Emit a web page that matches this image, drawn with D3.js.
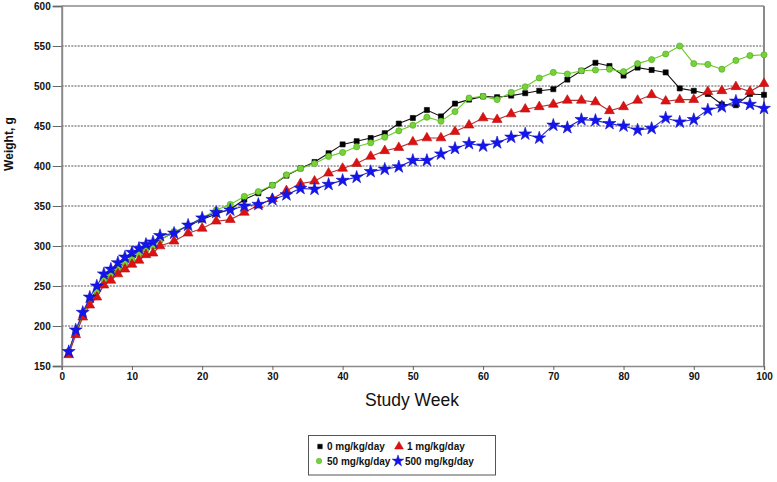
<!DOCTYPE html>
<html>
<head>
<meta charset="utf-8">
<script src="https://cdn.jsdelivr.net/npm/d3@7"></script>
<style>
  html, body { margin: 0; padding: 0; background: #fff; }
  svg { display: block; font-family: "Liberation Sans", Arial, sans-serif; }
</style>
</head>
<body>
<svg id="chart" width="777" height="482"></svg>
<script>
// ---- data ----
const weeks = [1,2,3,4,5,6,7,8,9,10,11,12,13,14,
  16,18,20,22,24,26,28,30,32,34,36,38,
  40,42,44,46,48,50,52,54,56,58,60,
  62,64,66,68,70,72,74,76,78,80,
  82,84,86,88,90,92,94,96,98,100];

const dose0 = [168,193,214,232,245,259,265,273,280,285,291,297,301,308,
  317,325,333,340,346,358,366,376,388,397,405,416,
  427,431,435,441,453,460,470,462,478,483,487,
  486,488,491,494,496,508,519,529,525,513,
  523,520,517,497,494,490,477,476,490,489];

const dose50 = [168,192,213,231,243,257,263,271,278,283,290,295,300,307,
  318,325,335,345,352,362,368,376,389,397,403,412,
  417,424,429,436,444,451,461,456,468,485,487,
  483,492,499,510,517,515,519,520,521,518,
  528,533,540,550,528,527,521,532,538,539];

const dose1 = [164,189,211,226,236,251,257,265,271,277,282,289,291,300,
  306,316,322,331,333,342,351,359,369,378,381,391,
  397,403,412,419,423,430,435,435,443,451,460,
  458,465,471,474,477,482,482,480,469,474,
  482,489,481,483,483,493,494,499,493,503];

const dose500 = [168,195,217,236,250,265,271,279,286,292,297,302,305,313,
  316,326,335,342,345,350,352,358,364,372,371,377,
  382,386,393,396,399,407,407,415,422,428,425,
  429,436,440,435,451,448,458,457,453,450,
  445,447,460,455,458,470,474,481,477,472];

const xTicks = [0,10,20,30,40,50,60,70,80,90,100];
const yTicks = [150,200,250,300,350,400,450,500,550,600];

const seriesNames = ["0 mg/kg/day", "1 mg/kg/day", "50 mg/kg/day", "500 mg/kg/day"];

// ---- layout ----
const svg = d3.select("#chart");
const x = d3.scaleLinear().domain([0, 100]).range([61.7, 764]);
const y = d3.scaleLinear().domain([150, 600]).range([366, 6]);

const series = [
  { name: seriesNames[0], values: dose0,   line: "#111111", fill: "#000000", stroke: "#000000", symbol: d3.symbolSquare,   size: 26 },
  { name: seriesNames[2], values: dose50,  line: "#66cc22", fill: "#77d13a", stroke: "#4fa81e", symbol: d3.symbolCircle,   size: 30 },
  { name: seriesNames[1], values: dose1,   line: "#b83030", fill: "#dd1111", stroke: "#b51010", symbol: d3.symbolTriangle, size: 42 },
  { name: seriesNames[3], values: dose500, line: "#2a2ad0", fill: "#1414f0", stroke: "#1010c0", symbol: d3.symbolStar,     size: 52 }
];

// gridlines
svg.append("g").selectAll("line")
  .data(yTicks.filter(v => v > 150 && v < 600))
  .join("line")
  .attr("x1", x(0)).attr("x2", x(100))
  .attr("y1", d => y(d)).attr("y2", d => y(d))
  .attr("stroke", "#555")
  .attr("stroke-width", 1.2)
  .attr("stroke-dasharray", "2,1.2");

// frame: top and right lines
svg.append("line").attr("x1", x(0)).attr("x2", x(100)).attr("y1", y(600)).attr("y2", y(600))
  .attr("stroke", "#8a8a8a").attr("stroke-width", 1.5);
svg.append("line").attr("x1", x(100)).attr("x2", x(100)).attr("y1", y(600)).attr("y2", y(150))
  .attr("stroke", "#8a8a8a").attr("stroke-width", 2);

// axes
const yAxis = d3.axisLeft(y).tickValues(yTicks).tickSize(9).tickPadding(2).tickFormat(d3.format("d"));
const gy = svg.append("g").attr("transform", `translate(${x(0)},0)`).call(yAxis);
gy.select(".domain").attr("stroke", "#8a8a8a").attr("stroke-width", 2);
gy.selectAll(".tick line").attr("stroke", "#666").attr("stroke-width", 1);
gy.selectAll(".tick text").attr("font-size", 10).attr("font-weight", "bold").attr("fill", "#111")
  .attr("font-family", "Liberation Sans, Arial, sans-serif");

const xAxis = d3.axisBottom(x).tickValues(xTicks).tickSize(4).tickPadding(3).tickFormat(d3.format("d"));
const gx = svg.append("g").attr("transform", `translate(0,${y(150)})`).call(xAxis);
gx.select(".domain").attr("stroke", "#8a8a8a").attr("stroke-width", 1.5);
gx.selectAll(".tick line").attr("stroke", "#666").attr("stroke-width", 1);
gx.selectAll(".tick text").attr("font-size", 10).attr("font-weight", "bold").attr("fill", "#111")
  .attr("font-family", "Liberation Sans, Arial, sans-serif");

// axis titles
svg.append("text").attr("x", 412).attr("y", 406).attr("text-anchor", "middle")
  .attr("font-size", 17.5).attr("fill", "#111").text("Study Week");
svg.append("text").attr("transform", "translate(13,144) rotate(-90)").attr("text-anchor", "middle")
  .attr("font-size", 12).attr("font-weight", "bold").attr("fill", "#111").text("Weight, g");

// lines and markers
const lineGen = d3.line().x(d => x(d[0])).y(d => y(d[1]));
series.forEach(s => {
  const pts = weeks.map((w, i) => [w, s.values[i]]);
  const g = svg.append("g");
  g.append("path").datum(pts).attr("d", lineGen)
    .attr("fill", "none").attr("stroke", s.line).attr("stroke-width", 1.1);
  g.selectAll("path.m").data(pts).join("path").attr("class", "m")
    .attr("transform", d => `translate(${x(d[0])},${y(d[1])})`)
    .attr("d", d3.symbol().type(s.symbol).size(s.size))
    .attr("fill", s.fill).attr("stroke", s.stroke).attr("stroke-width", 0.6);
});

// legend
const lg = svg.append("g");
lg.append("rect").attr("x", 308.5).attr("y", 435.5).attr("width", 187).attr("height", 39.5)
  .attr("fill", "#fff").attr("stroke", "#555").attr("stroke-width", 1);
const legendItems = [
  { s: series[0], mx: 320, tx: 327, y: 446.5 },
  { s: series[2], mx: 399, tx: 407, y: 446.5 },
  { s: series[1], mx: 319, tx: 327, y: 461 },
  { s: series[3], mx: 398, tx: 405, y: 461 }
];
legendItems.forEach(it => {
  lg.append("path").attr("transform", `translate(${it.mx},${it.y})`)
    .attr("d", d3.symbol().type(it.s.symbol).size(it.s.size * 0.8))
    .attr("fill", it.s.fill).attr("stroke", it.s.stroke).attr("stroke-width", 0.5);
  lg.append("text").attr("x", it.tx).attr("y", it.y + 3.6)
    .attr("font-size", 10).attr("font-weight", "bold").attr("fill", "#111").text(it.s.name);
});
</script>
</body>
</html>
